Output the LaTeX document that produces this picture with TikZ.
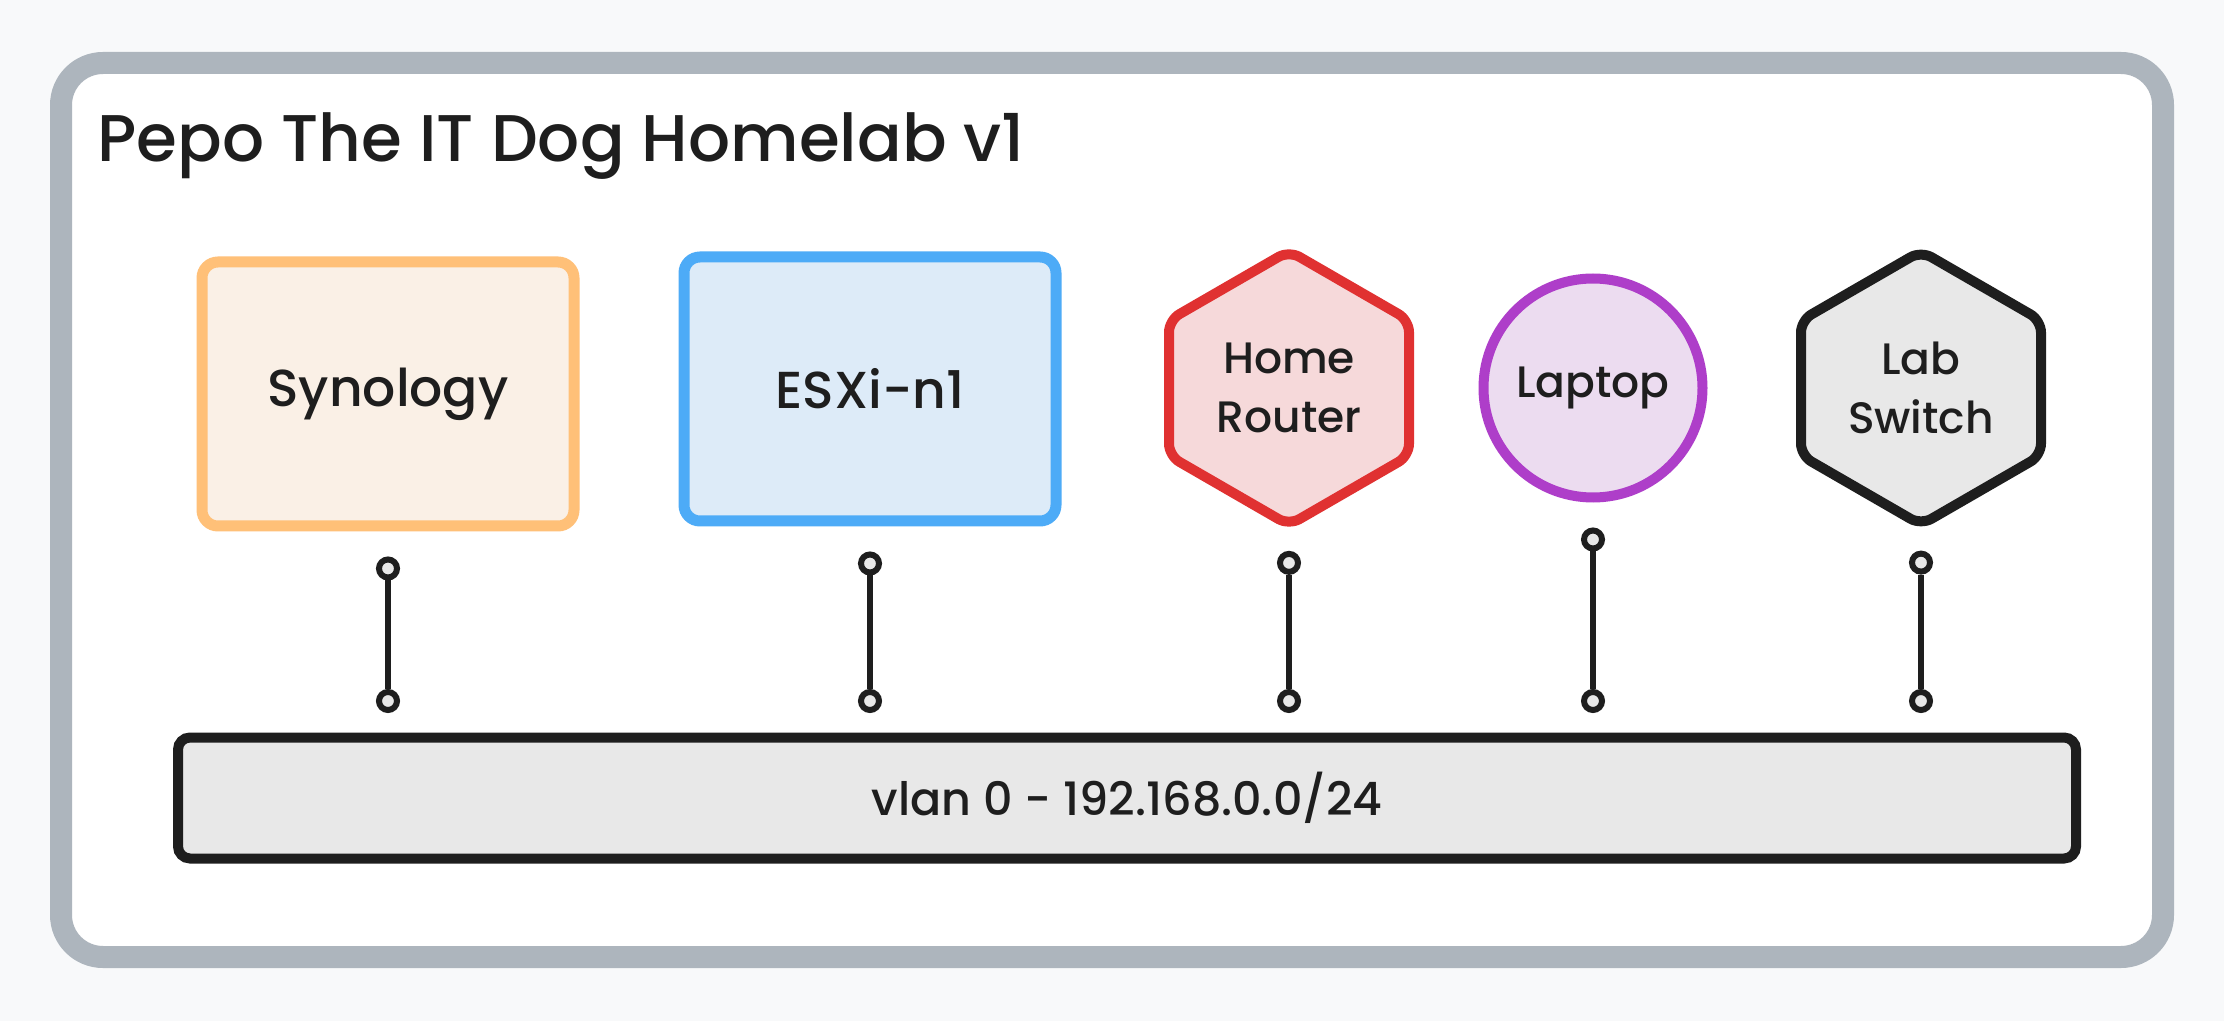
\documentclass[tikz,border=0pt]{standalone}
\usepackage{fontspec}
\setmainfont{Poppins}[BoldFont={Poppins Medium}]
\usepackage{tikz}
\usetikzlibrary{shapes,positioning}

\definecolor{page_bg}{HTML}{F8F9FA}
\definecolor{frame_gray}{HTML}{ADB5BD}
\definecolor{ink}{HTML}{1E1E1E}
\definecolor{syn_line}{HTML}{FFC078}
\definecolor{syn_fill}{HTML}{FAF0E6}
\definecolor{esx_line}{HTML}{4DABF7}
\definecolor{esx_fill}{HTML}{DDEBF8}
\definecolor{rtr_line}{HTML}{E03131}
\definecolor{rtr_fill}{HTML}{F6D9DA}
\definecolor{lap_line}{HTML}{AE3EC9}
\definecolor{lap_fill}{HTML}{ECDCF0}
\definecolor{gray_fill}{HTML}{E8E8E8}

\begin{document}
\begin{tikzpicture}[x=0.5pt, y=-0.5pt,
  title_node/.style={anchor=base west, inner sep=0pt, text=ink, font=\fontsize{33}{38}\selectfont\bfseries},
  box_node/.style={rectangle, rounded corners=8pt, line width=5.5pt, minimum width=186pt, minimum height=132pt, text=ink, font=\fontsize{26}{30}\selectfont\bfseries},
  hex_node/.style={signal, signal to=north and south, signal pointer angle=120, rounded corners=6pt, line width=5pt, minimum width=120pt, minimum height=113.5pt, align=center, text=ink, font=\fontsize{22}{29.5}\selectfont\bfseries},
  round_node/.style={circle, line width=5pt, minimum size=109.5pt, text=ink, font=\fontsize{22}{26}\selectfont\bfseries},
  bus_node/.style={rectangle, rounded corners=6pt, draw=ink, fill=gray_fill, line width=5pt, minimum width=949pt, minimum height=60.5pt, text=ink, font=\fontsize{23}{27}\selectfont\bfseries},
  port_node/.style={circle, draw=ink, fill=gray_fill, line width=3pt, minimum size=9pt, inner sep=0pt},
  link/.style={draw=ink, line width=3pt}]

  % page and frame
  \fill[page_bg] (0,0) rectangle (2224,1021);
  \draw[frame_gray, fill=white, line width=11pt, rounded corners=21pt] (61,63) rectangle (2163,957);
  \node[title_node] (title) at (97,162) {Pepo The IT Dog Homelab v1};

  % devices
  \node[box_node, draw=syn_line, fill=syn_fill] (syn) at (388,394) {Synology};
  \node[box_node, draw=esx_line, fill=esx_fill] (esx) at (870,389) {ESXi-n1};
  \node[hex_node, draw=rtr_line, fill=rtr_fill] (rtr) at (1289,388) {Home\\Router};
  \node[round_node, draw=lap_line, fill=lap_fill] (lap) at (1593,388) {Laptop};
  \node[hex_node, draw=ink, fill=gray_fill] (sw) at (1921,388) {Lab\\Switch};

  % network
  \node[bus_node] (bus) at (1127,798) {vlan 0 - 192.168.0.0/24};

  \node[port_node, below=12.5pt of syn] (syn_top) {};
  \node[port_node, below=12.5pt of esx] (esx_top) {};
  \node[port_node, below=10pt of rtr] (rtr_top) {};
  \node[port_node, below=12.5pt of lap] (lap_top) {};
  \node[port_node, below=10pt of sw] (sw_top) {};
  \node[port_node] (syn_bot) at (syn_top |- 0,701) {};
  \node[port_node] (esx_bot) at (esx_top |- 0,701) {};
  \node[port_node] (rtr_bot) at (rtr_top |- 0,701) {};
  \node[port_node] (lap_bot) at (lap_top |- 0,701) {};
  \node[port_node] (sw_bot) at (sw_top |- 0,701) {};

  \path[every edge/.style={link}]
  (syn_top) edge (syn_bot)
  (esx_top) edge (esx_bot)
  (rtr_top) edge (rtr_bot)
  (lap_top) edge (lap_bot)
  (sw_top) edge (sw_bot);
\end{tikzpicture}
\end{document}
